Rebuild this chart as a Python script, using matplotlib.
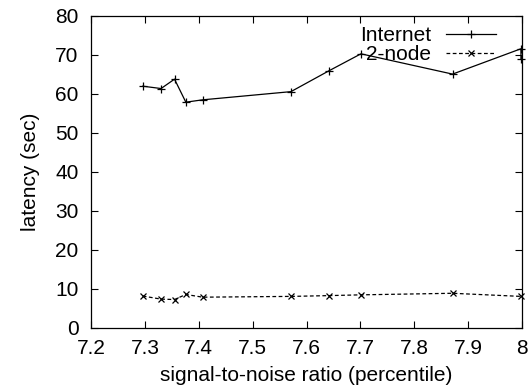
import matplotlib
matplotlib.use("Agg")
import matplotlib.pyplot as plt

snr = [7.296, 7.330, 7.355, 7.376, 7.407, 7.571, 7.641, 7.701, 7.871, 7.998]
internet_x = snr + [7.998]
internet_y = [62.0, 61.4, 63.8, 57.9, 58.5, 60.6, 65.9, 70.3, 65.1, 71.6, 69.0]
node2_y = [8.2, 7.4, 7.3, 8.6, 7.9, 8.1, 8.3, 8.5, 8.9, 8.1]

xticks = [7.2, 7.3, 7.4, 7.5, 7.6, 7.7, 7.8, 7.9, 8.0]
xticklabels = ["7.2", "7.3", "7.4", "7.5", "7.6", "7.7", "7.8", "7.9", "8"]
yticks = [0, 10, 20, 30, 40, 50, 60, 70, 80]

plt.rcParams['font.family'] = ['Liberation Sans', 'DejaVu Sans']
fs = 15

fig = plt.figure(figsize=(5.3, 3.9), dpi=100)
ax = fig.add_axes([0.1717, 0.159, 0.8133, 0.8])

ax.plot(internet_x, internet_y, color='black', lw=0.9, marker='+', ms=6,
        mew=0.9, label='Internet', clip_on=False)
ax.plot(snr, node2_y, color='black', lw=0.9, ls=(0, (3, 2)), marker='x', ms=4.5,
        mew=0.9, label='2-node', clip_on=False)

ax.set_xlim(7.2, 8.0)
ax.set_ylim(0, 80)
ax.set_xticks(xticks)
ax.set_xticklabels(xticklabels)
ax.set_yticks(yticks)
ax.tick_params(direction='in', length=5, width=0.8, top=True, right=True,
               labelsize=fs)
ax.tick_params(axis='x', pad=8)
ax.tick_params(axis='y', pad=9)
for s in ax.spines.values():
    s.set_linewidth(0.9)

ax.set_xlabel('signal-to-noise ratio (percentile)', fontsize=fs, labelpad=6)
ax.set_ylabel('latency (sec)', fontsize=fs, labelpad=11)

leg = ax.legend(loc='upper right', frameon=False, markerfirst=False,
                fontsize=fs, handlelength=2.4, handletextpad=0.7,
                borderaxespad=0.1, labelspacing=0.0, bbox_to_anchor=(0.963, 1.0))
for t in leg.get_texts():
    t.set_ha('right')

fig.savefig('out.png', dpi=100)
